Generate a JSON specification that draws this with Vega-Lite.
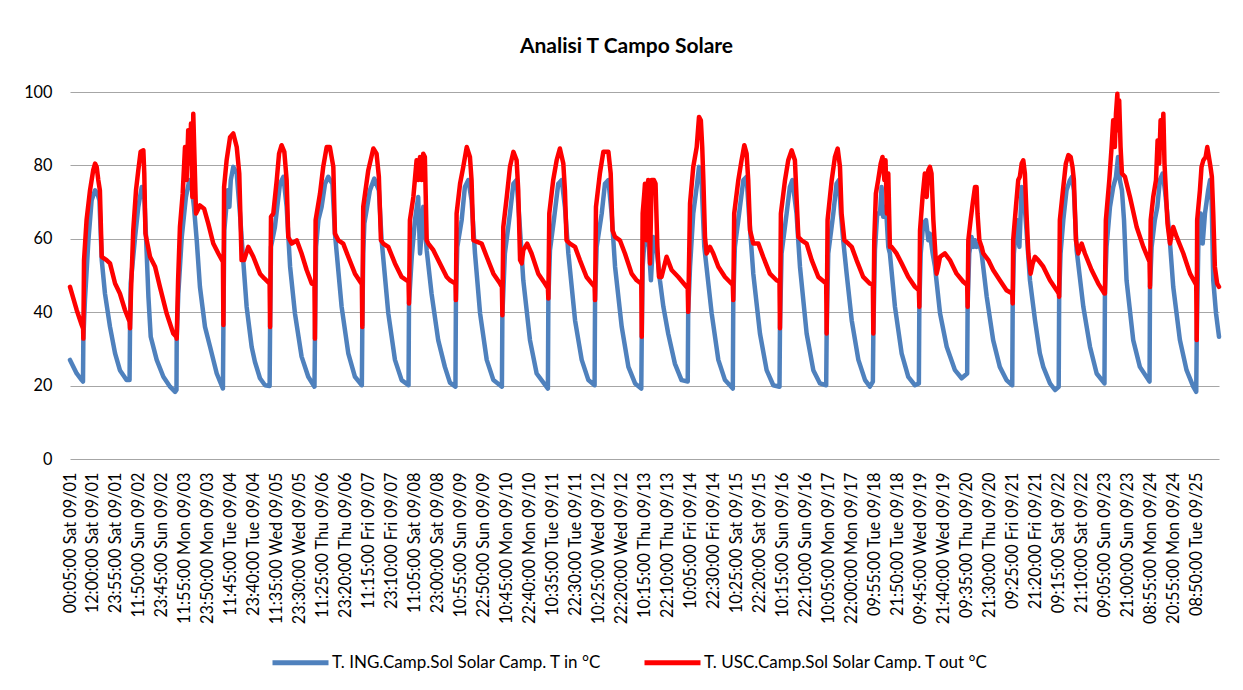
{
"$schema":"https://vega.github.io/schema/vega-lite/v6.json",
"width":1149,"height":367,
"autosize":{"type":"none"},
"padding":{"left":70,"top":92,"right":24,"bottom":231},
"background":"white",
"config":{"view":{"stroke":null},"font":"Lato"},
"title":{"text":"Analisi T Campo Solare","font":"Lato","fontSize":21,"fontWeight":"bold","color":"#000000","offset":27,"dx":-18},
"datasets":{
"tin":[
{"t":0,"v":27.0},{"t":0.29,"v":23.3},{"t":0.51,"v":21.5},{"t":0.565,"v":21.1},{"t":0.58,"v":32.8},{"t":0.65,"v":43.3},{"t":0.80,"v":59.6},{"t":0.94,"v":70.5},{"t":1.09,"v":73.2},{"t":1.19,"v":72.3},{"t":1.28,"v":70.5},{"t":1.38,"v":54.2},{"t":1.52,"v":45.1},{"t":1.74,"v":36.0},{"t":1.96,"v":28.8},{"t":2.17,"v":24.2},{"t":2.46,"v":21.5},{"t":2.59,"v":21.5},
{"t":2.61,"v":35.6},{"t":2.64,"v":47.8},{"t":2.83,"v":60.5},{"t":2.97,"v":68.7},{"t":3.12,"v":74.1},{"t":3.22,"v":73.2},{"t":3.30,"v":61.4},{"t":3.41,"v":44.2},{"t":3.51,"v":33.3},{"t":3.77,"v":27.0},{"t":4.06,"v":22.4},{"t":4.35,"v":19.7},{"t":4.57,"v":18.3},{"t":4.63,"v":18.8},
{"t":4.64,"v":32.8},{"t":4.71,"v":45.1},{"t":4.86,"v":60.5},{"t":5.04,"v":71.4},{"t":5.19,"v":76.0},{"t":5.29,"v":74.1},{"t":5.39,"v":68.7},{"t":5.51,"v":59.6},{"t":5.65,"v":46.9},{"t":5.87,"v":36.0},{"t":6.09,"v":30.6},{"t":6.38,"v":23.3},{"t":6.65,"v":19.2},
{"t":6.67,"v":36.5},{"t":6.71,"v":62.3},{"t":6.86,"v":73.2},{"t":6.93,"v":68.7},{"t":6.99,"v":76.0},{"t":7.10,"v":79.6},{"t":7.25,"v":77.8},{"t":7.39,"v":66.9},{"t":7.51,"v":56.0},{"t":7.68,"v":41.5},{"t":7.90,"v":30.5},{"t":8.04,"v":26.5},{"t":8.26,"v":22.0},{"t":8.48,"v":20.1},{"t":8.68,"v":19.9},
{"t":8.70,"v":36.0},{"t":8.74,"v":57.8},{"t":8.91,"v":63.2},{"t":9.13,"v":75.0},{"t":9.28,"v":76.9},{"t":9.42,"v":68.7},{"t":9.57,"v":52.4},{"t":9.78,"v":39.7},{"t":10.07,"v":27.9},{"t":10.36,"v":22.4},{"t":10.63,"v":19.7},
{"t":10.65,"v":32.8},{"t":10.70,"v":57.8},{"t":10.80,"v":65.1},{"t":10.94,"v":68.7},{"t":11.09,"v":75.0},{"t":11.23,"v":76.9},{"t":11.41,"v":75.0},{"t":11.52,"v":61.4},{"t":11.81,"v":41.5},{"t":12.10,"v":28.8},{"t":12.39,"v":22.4},{"t":12.69,"v":20.1},
{"t":12.71,"v":36.0},{"t":12.75,"v":56.0},{"t":12.80,"v":64.2},{"t":13.04,"v":73.2},{"t":13.23,"v":76.4},{"t":13.43,"v":73.2},{"t":13.55,"v":59.6},{"t":13.84,"v":39.7},{"t":14.13,"v":27.0},{"t":14.42,"v":21.5},{"t":14.72,"v":20.1},
{"t":14.74,"v":42.4},{"t":14.86,"v":55.1},{"t":15.0,"v":65.1},{"t":15.14,"v":71.4},{"t":15.22,"v":56.0},{"t":15.29,"v":61.4},{"t":15.36,"v":68.7},{"t":15.51,"v":56.9},{"t":15.72,"v":45.1},{"t":16.01,"v":32.4},{"t":16.30,"v":25.1},{"t":16.52,"v":20.8},{"t":16.76,"v":19.7},
{"t":16.78,"v":43.3},{"t":16.84,"v":57.8},{"t":17.03,"v":65.1},{"t":17.17,"v":74.1},{"t":17.32,"v":76.0},{"t":17.46,"v":70.5},{"t":17.61,"v":56.0},{"t":17.83,"v":39.7},{"t":18.12,"v":27.0},{"t":18.41,"v":21.5},{"t":18.78,"v":19.7},
{"t":18.80,"v":39.2},{"t":18.91,"v":56.0},{"t":19.13,"v":66.9},{"t":19.28,"v":75.0},{"t":19.42,"v":76.0},{"t":19.54,"v":65.1},{"t":19.71,"v":48.7},{"t":20.0,"v":32.4},{"t":20.29,"v":23.3},{"t":20.78,"v":19.2},
{"t":20.80,"v":43.7},{"t":20.87,"v":56.9},{"t":21.04,"v":65.1},{"t":21.23,"v":75.0},{"t":21.38,"v":76.0},{"t":21.52,"v":68.7},{"t":21.67,"v":56.0},{"t":21.96,"v":37.8},{"t":22.25,"v":27.0},{"t":22.54,"v":21.5},{"t":22.81,"v":20.1},
{"t":22.83,"v":43.3},{"t":22.90,"v":57.8},{"t":23.12,"v":66.9},{"t":23.26,"v":75.0},{"t":23.41,"v":76.0},{"t":23.55,"v":66.9},{"t":23.70,"v":52.4},{"t":23.99,"v":36.0},{"t":24.28,"v":25.1},{"t":24.57,"v":20.6},{"t":24.84,"v":19.2},
{"t":24.86,"v":33.3},{"t":24.90,"v":52.4},{"t":25.0,"v":61.4},{"t":25.07,"v":60.5},{"t":25.17,"v":57.8},{"t":25.26,"v":48.7},{"t":25.36,"v":60.5},{"t":25.51,"v":56.9},{"t":25.65,"v":48.7},{"t":25.80,"v":41.5},{"t":26.01,"v":34.2},{"t":26.30,"v":26.0},{"t":26.59,"v":21.5},{"t":26.86,"v":21.1},
{"t":26.88,"v":40.1},{"t":26.96,"v":52.4},{"t":27.10,"v":66.9},{"t":27.25,"v":74.1},{"t":27.35,"v":79.6},{"t":27.46,"v":76.0},{"t":27.58,"v":57.8},{"t":27.90,"v":39.7},{"t":28.19,"v":27.0},{"t":28.48,"v":21.5},{"t":28.82,"v":19.2},
{"t":28.84,"v":43.3},{"t":28.91,"v":57.8},{"t":29.13,"v":68.7},{"t":29.28,"v":76.0},{"t":29.42,"v":76.9},{"t":29.52,"v":66.9},{"t":29.71,"v":50.5},{"t":30.0,"v":34.2},{"t":30.29,"v":24.2},{"t":30.58,"v":20.1},{"t":30.85,"v":19.7},
{"t":30.87,"v":35.6},{"t":30.94,"v":56.0},{"t":31.16,"v":66.9},{"t":31.30,"v":74.1},{"t":31.41,"v":76.0},{"t":31.59,"v":66.9},{"t":31.74,"v":52.4},{"t":32.03,"v":34.2},{"t":32.32,"v":24.2},{"t":32.61,"v":20.6},{"t":32.88,"v":20.1},
{"t":32.90,"v":34.2},{"t":32.97,"v":56.0},{"t":33.19,"v":66.9},{"t":33.33,"v":75.0},{"t":33.43,"v":76.0},{"t":33.52,"v":66.9},{"t":33.62,"v":59.6},{"t":33.77,"v":50.5},{"t":33.99,"v":37.8},{"t":34.28,"v":27.0},{"t":34.57,"v":21.5},{"t":34.78,"v":19.7},{"t":34.91,"v":21.1},
{"t":34.93,"v":34.2},{"t":35.0,"v":56.9},{"t":35.10,"v":66.9},{"t":35.22,"v":66.9},{"t":35.29,"v":74.1},{"t":35.36,"v":66.0},{"t":35.48,"v":68.7},{"t":35.58,"v":57.8},{"t":35.65,"v":56.0},{"t":35.87,"v":41.5},{"t":36.16,"v":28.8},{"t":36.45,"v":22.4},{"t":36.74,"v":20.1},{"t":36.91,"v":20.6},
{"t":36.93,"v":41.5},{"t":36.99,"v":56.0},{"t":37.10,"v":64.2},{"t":37.22,"v":65.1},{"t":37.32,"v":59.6},{"t":37.39,"v":61.4},{"t":37.51,"v":56.0},{"t":37.61,"v":52.4},{"t":37.83,"v":39.7},{"t":38.12,"v":30.6},{"t":38.48,"v":24.2},{"t":38.77,"v":22.0},{"t":39.01,"v":23.3},
{"t":39.03,"v":41.5},{"t":39.10,"v":56.0},{"t":39.20,"v":60.5},{"t":39.28,"v":57.8},{"t":39.35,"v":59.6},{"t":39.42,"v":57.8},{"t":39.54,"v":58.7},{"t":39.64,"v":56.0},{"t":39.86,"v":44.2},{"t":40.14,"v":32.4},{"t":40.43,"v":25.1},{"t":40.72,"v":21.5},{"t":40.97,"v":20.1},
{"t":40.99,"v":42.4},{"t":41.04,"v":56.0},{"t":41.16,"v":65.1},{"t":41.28,"v":57.8},{"t":41.38,"v":74.1},{"t":41.48,"v":71.4},{"t":41.59,"v":62.3},{"t":41.74,"v":48.7},{"t":41.96,"v":37.8},{"t":42.17,"v":28.8},{"t":42.32,"v":25.1},{"t":42.61,"v":20.6},{"t":42.83,"v":18.8},{"t":42.99,"v":19.7},
{"t":43.01,"v":44.2},{"t":43.07,"v":56.0},{"t":43.19,"v":65.1},{"t":43.33,"v":73.2},{"t":43.48,"v":76.0},{"t":43.57,"v":76.9},{"t":43.65,"v":73.2},{"t":43.77,"v":56.9},{"t":44.06,"v":41.5},{"t":44.35,"v":30.6},{"t":44.64,"v":23.3},{"t":44.98,"v":20.6},
{"t":45.0,"v":45.1},{"t":45.07,"v":57.8},{"t":45.22,"v":68.7},{"t":45.36,"v":74.1},{"t":45.48,"v":76.9},{"t":45.57,"v":82.3},{"t":45.65,"v":76.0},{"t":45.74,"v":73.2},{"t":45.83,"v":65.1},{"t":45.94,"v":48.7},{"t":46.23,"v":32.4},{"t":46.52,"v":25.1},{"t":46.94,"v":21.1},
{"t":46.96,"v":46.9},{"t":47.03,"v":57.8},{"t":47.17,"v":65.1},{"t":47.28,"v":68.7},{"t":47.39,"v":76.0},{"t":47.51,"v":77.8},{"t":47.61,"v":73.2},{"t":47.80,"v":61.4},{"t":47.97,"v":46.9},{"t":48.26,"v":32.4},{"t":48.55,"v":24.2},{"t":48.84,"v":19.7},{"t":48.97,"v":18.3},
{"t":48.99,"v":32.4},{"t":49.06,"v":57.8},{"t":49.16,"v":66.9},{"t":49.25,"v":58.7},{"t":49.35,"v":66.9},{"t":49.49,"v":73.2},{"t":49.57,"v":76.0},{"t":49.64,"v":70.5},{"t":49.71,"v":48.7},{"t":49.83,"v":39.7},{"t":49.96,"v":33.3}
],
"tout":[
{"t":0,"v":46.9},{"t":0.29,"v":40.6},{"t":0.51,"v":36.5},{"t":0.57,"v":35.5},{"t":0.58,"v":32.8},{"t":0.61,"v":54.2},{"t":0.72,"v":65.1},{"t":0.87,"v":73.2},{"t":1.01,"v":78.7},{"t":1.09,"v":80.5},{"t":1.16,"v":79.6},{"t":1.23,"v":76.0},{"t":1.30,"v":73.2},{"t":1.38,"v":55.1},{"t":1.59,"v":54.2},{"t":1.74,"v":53.3},{"t":1.96,"v":47.8},{"t":2.17,"v":45.1},{"t":2.39,"v":40.6},{"t":2.59,"v":37.4},
{"t":2.61,"v":35.6},{"t":2.65,"v":45.1},{"t":2.75,"v":62.3},{"t":2.87,"v":73.2},{"t":2.97,"v":78.7},{"t":3.07,"v":83.7},{"t":3.19,"v":84.1},{"t":3.23,"v":77.8},{"t":3.28,"v":61.4},{"t":3.48,"v":55.1},{"t":3.70,"v":52.4},{"t":3.91,"v":46.9},{"t":4.20,"v":39.7},{"t":4.49,"v":34.2},{"t":4.62,"v":33.3},
{"t":4.64,"v":32.8},{"t":4.70,"v":48.7},{"t":4.78,"v":63.2},{"t":4.90,"v":72.3},{"t":5.0,"v":85.0},{"t":5.07,"v":76.0},{"t":5.14,"v":89.6},{"t":5.22,"v":80.5},{"t":5.26,"v":91.4},{"t":5.32,"v":71.4},{"t":5.36,"v":94.1},{"t":5.42,"v":80.5},{"t":5.48,"v":66.9},{"t":5.65,"v":69.1},{"t":5.83,"v":68.2},{"t":6.01,"v":64.2},{"t":6.23,"v":58.7},{"t":6.45,"v":56.0},{"t":6.65,"v":53.7},
{"t":6.67,"v":36.5},{"t":6.70,"v":74.1},{"t":6.81,"v":81.4},{"t":6.96,"v":87.7},{"t":7.10,"v":88.7},{"t":7.25,"v":85.0},{"t":7.36,"v":77.8},{"t":7.46,"v":54.2},{"t":7.57,"v":54.2},{"t":7.75,"v":57.8},{"t":7.97,"v":55.1},{"t":8.26,"v":50.5},{"t":8.45,"v":49.2},{"t":8.68,"v":47.8},
{"t":8.70,"v":36.0},{"t":8.74,"v":66.0},{"t":8.84,"v":66.9},{"t":8.99,"v":76.0},{"t":9.09,"v":83.2},{"t":9.20,"v":85.5},{"t":9.32,"v":83.7},{"t":9.42,"v":76.0},{"t":9.49,"v":60.5},{"t":9.64,"v":58.7},{"t":9.86,"v":59.6},{"t":10.07,"v":56.0},{"t":10.29,"v":51.5},{"t":10.51,"v":47.8},{"t":10.63,"v":47.4},
{"t":10.65,"v":32.8},{"t":10.68,"v":65.1},{"t":10.87,"v":72.3},{"t":11.01,"v":79.6},{"t":11.16,"v":85.0},{"t":11.30,"v":85.0},{"t":11.45,"v":79.6},{"t":11.52,"v":61.4},{"t":11.67,"v":59.6},{"t":11.88,"v":58.7},{"t":12.10,"v":55.1},{"t":12.39,"v":50.5},{"t":12.69,"v":47.6},
{"t":12.71,"v":36.0},{"t":12.75,"v":68.7},{"t":12.97,"v":78.7},{"t":13.19,"v":84.6},{"t":13.33,"v":83.2},{"t":13.43,"v":76.9},{"t":13.52,"v":59.6},{"t":13.62,"v":58.7},{"t":13.84,"v":57.8},{"t":14.13,"v":53.3},{"t":14.42,"v":49.6},{"t":14.72,"v":48.3},
{"t":14.74,"v":42.4},{"t":14.78,"v":65.1},{"t":14.93,"v":71.4},{"t":15.07,"v":81.4},{"t":15.14,"v":76.0},{"t":15.22,"v":82.3},{"t":15.29,"v":76.0},{"t":15.36,"v":83.2},{"t":15.43,"v":82.3},{"t":15.51,"v":59.6},{"t":15.58,"v":58.7},{"t":15.80,"v":56.9},{"t":16.01,"v":54.2},{"t":16.38,"v":49.6},{"t":16.52,"v":48.7},{"t":16.76,"v":47.8},
{"t":16.78,"v":43.3},{"t":16.81,"v":66.9},{"t":16.96,"v":75.0},{"t":17.10,"v":79.6},{"t":17.25,"v":85.0},{"t":17.39,"v":82.3},{"t":17.46,"v":76.0},{"t":17.54,"v":59.6},{"t":17.68,"v":59.2},{"t":17.90,"v":58.7},{"t":18.12,"v":55.1},{"t":18.41,"v":50.5},{"t":18.70,"v":47.8},{"t":18.78,"v":46.9},
{"t":18.80,"v":39.2},{"t":18.84,"v":63.2},{"t":18.99,"v":71.4},{"t":19.13,"v":79.6},{"t":19.28,"v":83.7},{"t":19.42,"v":81.4},{"t":19.49,"v":73.2},{"t":19.57,"v":54.2},{"t":19.64,"v":53.3},{"t":19.71,"v":56.9},{"t":19.88,"v":58.7},{"t":20.07,"v":56.0},{"t":20.36,"v":50.5},{"t":20.65,"v":47.8},{"t":20.78,"v":46.5},
{"t":20.80,"v":43.7},{"t":20.84,"v":66.9},{"t":21.01,"v":76.0},{"t":21.16,"v":81.4},{"t":21.30,"v":84.6},{"t":21.45,"v":80.5},{"t":21.52,"v":73.2},{"t":21.59,"v":59.6},{"t":21.74,"v":58.7},{"t":21.96,"v":57.8},{"t":22.17,"v":54.2},{"t":22.46,"v":49.6},{"t":22.81,"v":46.9},
{"t":22.83,"v":43.3},{"t":22.87,"v":68.7},{"t":23.04,"v":77.8},{"t":23.19,"v":83.7},{"t":23.41,"v":83.7},{"t":23.51,"v":77.8},{"t":23.59,"v":62.3},{"t":23.70,"v":60.5},{"t":23.91,"v":59.6},{"t":24.13,"v":56.0},{"t":24.42,"v":50.5},{"t":24.64,"v":48.7},{"t":24.84,"v":47.8},
{"t":24.86,"v":33.3},{"t":24.90,"v":66.9},{"t":24.97,"v":72.3},{"t":25.0,"v":75.0},{"t":25.07,"v":59.6},{"t":25.14,"v":76.0},{"t":25.22,"v":53.3},{"t":25.29,"v":76.0},{"t":25.39,"v":76.0},{"t":25.46,"v":75.0},{"t":25.54,"v":57.8},{"t":25.61,"v":49.6},{"t":25.72,"v":49.6},{"t":25.94,"v":55.1},{"t":26.16,"v":51.5},{"t":26.45,"v":49.6},{"t":26.74,"v":47.4},{"t":26.86,"v":46.5},
{"t":26.88,"v":40.1},{"t":26.96,"v":69.6},{"t":27.10,"v":79.6},{"t":27.25,"v":85.0},{"t":27.35,"v":93.2},{"t":27.43,"v":92.3},{"t":27.49,"v":85.0},{"t":27.54,"v":76.0},{"t":27.61,"v":60.5},{"t":27.68,"v":56.0},{"t":27.83,"v":57.8},{"t":27.97,"v":56.0},{"t":28.19,"v":52.4},{"t":28.48,"v":49.6},{"t":28.82,"v":47.4},
{"t":28.84,"v":43.3},{"t":28.88,"v":66.9},{"t":29.06,"v":76.0},{"t":29.20,"v":81.4},{"t":29.32,"v":85.5},{"t":29.42,"v":83.2},{"t":29.49,"v":76.0},{"t":29.57,"v":62.3},{"t":29.71,"v":58.7},{"t":29.93,"v":58.7},{"t":30.14,"v":55.1},{"t":30.43,"v":50.5},{"t":30.72,"v":48.7},{"t":30.85,"v":48.3},
{"t":30.87,"v":35.6},{"t":30.91,"v":66.9},{"t":31.09,"v":76.0},{"t":31.23,"v":81.4},{"t":31.38,"v":84.1},{"t":31.52,"v":81.4},{"t":31.59,"v":71.4},{"t":31.67,"v":60.5},{"t":31.81,"v":59.6},{"t":32.03,"v":58.7},{"t":32.25,"v":54.2},{"t":32.54,"v":49.6},{"t":32.88,"v":47.8},
{"t":32.90,"v":34.2},{"t":32.94,"v":65.1},{"t":33.12,"v":76.0},{"t":33.26,"v":82.3},{"t":33.38,"v":84.6},{"t":33.48,"v":79.6},{"t":33.55,"v":66.9},{"t":33.67,"v":59.6},{"t":33.84,"v":58.7},{"t":33.99,"v":57.8},{"t":34.20,"v":54.2},{"t":34.49,"v":49.6},{"t":34.78,"v":47.8},{"t":34.91,"v":47.4},
{"t":34.93,"v":34.2},{"t":34.97,"v":59.6},{"t":35.04,"v":72.3},{"t":35.14,"v":76.0},{"t":35.25,"v":80.5},{"t":35.33,"v":82.3},{"t":35.41,"v":76.0},{"t":35.46,"v":81.4},{"t":35.52,"v":66.9},{"t":35.58,"v":77.8},{"t":35.65,"v":57.8},{"t":35.72,"v":57.8},{"t":35.94,"v":56.0},{"t":36.16,"v":53.3},{"t":36.45,"v":49.6},{"t":36.74,"v":46.9},{"t":36.91,"v":46.0},
{"t":36.93,"v":41.5},{"t":36.96,"v":62.3},{"t":37.07,"v":71.4},{"t":37.17,"v":77.8},{"t":37.25,"v":71.4},{"t":37.32,"v":78.7},{"t":37.39,"v":79.6},{"t":37.46,"v":77.8},{"t":37.54,"v":65.1},{"t":37.61,"v":57.8},{"t":37.68,"v":50.5},{"t":37.75,"v":52.4},{"t":37.83,"v":55.1},{"t":38.04,"v":56.0},{"t":38.26,"v":54.2},{"t":38.55,"v":50.5},{"t":38.84,"v":48.3},{"t":39.01,"v":47.4},
{"t":39.03,"v":41.5},{"t":39.06,"v":59.6},{"t":39.16,"v":65.1},{"t":39.25,"v":69.6},{"t":39.35,"v":74.1},{"t":39.42,"v":74.1},{"t":39.46,"v":66.9},{"t":39.54,"v":59.6},{"t":39.64,"v":57.8},{"t":39.71,"v":56.0},{"t":39.93,"v":54.2},{"t":40.14,"v":51.5},{"t":40.43,"v":48.7},{"t":40.72,"v":46.0},{"t":40.97,"v":45.1},
{"t":40.99,"v":42.4},{"t":41.01,"v":59.6},{"t":41.13,"v":68.7},{"t":41.23,"v":76.0},{"t":41.30,"v":76.9},{"t":41.38,"v":80.5},{"t":41.45,"v":81.4},{"t":41.52,"v":77.8},{"t":41.59,"v":66.9},{"t":41.67,"v":56.0},{"t":41.77,"v":50.5},{"t":41.86,"v":53.3},{"t":41.96,"v":55.1},{"t":42.10,"v":54.2},{"t":42.32,"v":52.4},{"t":42.61,"v":48.7},{"t":42.90,"v":46.0},{"t":42.99,"v":45.1},
{"t":43.01,"v":44.2},{"t":43.04,"v":65.1},{"t":43.19,"v":74.1},{"t":43.30,"v":80.5},{"t":43.41,"v":82.8},{"t":43.51,"v":82.3},{"t":43.59,"v":79.6},{"t":43.65,"v":76.0},{"t":43.74,"v":59.6},{"t":43.84,"v":56.0},{"t":43.99,"v":58.7},{"t":44.13,"v":56.0},{"t":44.42,"v":51.5},{"t":44.71,"v":47.8},{"t":44.98,"v":45.1},
{"t":45.0,"v":45.1},{"t":45.04,"v":65.1},{"t":45.19,"v":76.0},{"t":45.29,"v":85.0},{"t":45.36,"v":92.3},{"t":45.43,"v":85.0},{"t":45.48,"v":94.1},{"t":45.54,"v":99.5},{"t":45.58,"v":89.6},{"t":45.62,"v":97.7},{"t":45.68,"v":85.0},{"t":45.74,"v":77.8},{"t":45.87,"v":76.9},{"t":46.09,"v":71.4},{"t":46.38,"v":63.2},{"t":46.67,"v":57.8},{"t":46.94,"v":53.7},
{"t":46.96,"v":46.9},{"t":46.99,"v":65.1},{"t":47.10,"v":71.4},{"t":47.22,"v":76.0},{"t":47.29,"v":86.8},{"t":47.36,"v":80.5},{"t":47.42,"v":92.3},{"t":47.48,"v":85.0},{"t":47.54,"v":94.1},{"t":47.59,"v":80.5},{"t":47.65,"v":73.2},{"t":47.72,"v":64.2},{"t":47.83,"v":58.7},{"t":47.97,"v":63.2},{"t":48.12,"v":60.5},{"t":48.41,"v":56.0},{"t":48.70,"v":50.5},{"t":48.97,"v":47.4},
{"t":48.99,"v":32.4},{"t":49.01,"v":65.1},{"t":49.13,"v":73.2},{"t":49.20,"v":79.6},{"t":49.28,"v":81.4},{"t":49.38,"v":82.3},{"t":49.45,"v":85.0},{"t":49.52,"v":82.3},{"t":49.59,"v":79.6},{"t":49.65,"v":76.9},{"t":49.71,"v":66.9},{"t":49.78,"v":52.4},{"t":49.88,"v":47.8},{"t":49.96,"v":46.9}
]
},
"encoding":{
"x":{"field":"t","type":"quantitative","scale":{"domain":[0,49.96],"nice":false,"zero":false},
"axis":{"title":null,"values":[0,1,2,3,4,5,6,7,8,9,10,11,12,13,14,15,16,17,18,19,20,21,22,23,24,25,26,27,28,29,30,31,32,33,34,35,36,37,38,39,40,41,42,43,44,45,46,47,48,49],
"labelExpr":"['00:05:00 Sat 09/01','12:00:00 Sat 09/01','23:55:00 Sat 09/01','11:50:00 Sun 09/02','23:45:00 Sun 09/02','11:55:00 Mon 09/03','23:50:00 Mon 09/03','11:45:00 Tue 09/04','23:40:00 Tue 09/04','11:35:00 Wed 09/05','23:30:00 Wed 09/05','11:25:00 Thu 09/06','23:20:00 Thu 09/06','11:15:00 Fri 09/07','23:10:00 Fri 09/07','11:05:00 Sat 09/08','23:00:00 Sat 09/08','10:55:00 Sun 09/09','22:50:00 Sun 09/09','10:45:00 Mon 09/10','22:40:00 Mon 09/10','10:35:00 Tue 09/11','22:30:00 Tue 09/11','10:25:00 Wed 09/12','22:20:00 Wed 09/12','10:15:00 Thu 09/13','22:10:00 Thu 09/13','10:05:00 Fri 09/14','22:30:00 Fri 09/14','10:25:00 Sat 09/15','22:20:00 Sat 09/15','10:15:00 Sun 09/16','22:10:00 Sun 09/16','10:05:00 Mon 09/17','22:00:00 Mon 09/17','09:55:00 Tue 09/18','21:50:00 Tue 09/18','09:45:00 Wed 09/19','21:40:00 Wed 09/19','09:35:00 Thu 09/20','21:30:00 Thu 09/20','09:25:00 Fri 09/21','21:20:00 Fri 09/21','09:15:00 Sat 09/22','21:10:00 Sat 09/22','09:05:00 Sun 09/23','21:00:00 Sun 09/23','08:55:00 Mon 09/24','20:55:00 Mon 09/24','08:50:00 Tue 09/25'][datum.value]",
"labelAngle":-90,"labelPadding":13,"labelFontSize":16.3,"labelFont":"Lato","labelColor":"#000000","labelOverlap":false,"labelFlush":false,"labelBound":false,"labelLimit":300,"ticks":false,"domain":false,"grid":false}},
"y":{"field":"v","type":"quantitative","scale":{"domain":[0,100],"nice":false,"zero":true},
"axis":{"title":null,"values":[0,20,40,60,80,100],"grid":true,"gridColor":"#a6a6a6","gridWidth":1.2,"domain":false,"ticks":false,"labelPadding":18,"labelFontSize":16.3,"labelFont":"Lato","labelColor":"#000000"}}
},
"layer":[
{"data":{"name":"tin"},"mark":{"type":"line","strokeWidth":4.5,"strokeJoin":"round","strokeCap":"round"},
"encoding":{"color":{"datum":"T. ING.Camp.Sol Solar Camp. T in °C","type":"nominal",
"scale":{"domain":["T. ING.Camp.Sol Solar Camp. T in °C","T. USC.Camp.Sol Solar Camp. T out °C"],"range":["#4F81BD","#FF0000"]},
"legend":{"title":null,"orient":"none","legendX":200,"legendY":540,"direction":"horizontal","symbolType":"stroke","symbolSize":3136,"symbolStrokeWidth":5,"labelFontSize":17,"labelFont":"Lato","labelColor":"#000000","labelLimit":400,"labelOffset":1,"columnPadding":32}}}},
{"data":{"name":"tout"},"mark":{"type":"line","strokeWidth":4.5,"strokeJoin":"round","strokeCap":"round"},
"encoding":{"color":{"datum":"T. USC.Camp.Sol Solar Camp. T out °C","type":"nominal"}}}
]
}
